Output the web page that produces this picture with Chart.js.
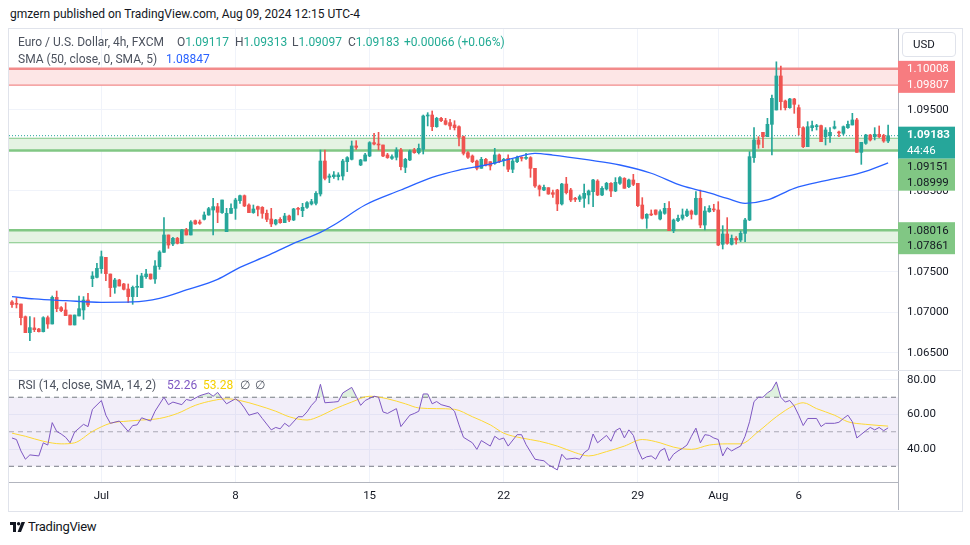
<!DOCTYPE html>
<html>
<head>
<meta charset="utf-8">
<script src="https://cdn.jsdelivr.net/npm/chart.js@4.4.1/dist/chart.umd.min.js"></script>
<style>
  body { margin: 0; width: 970px; height: 545px; background: #fff; position: relative; overflow: hidden;
         font-family: Roboto, "Noto Sans", sans-serif; color: #131722; }
  .abs { position: absolute; white-space: nowrap; }
  #pub { left: 10px; top: 6px; font-size: 12px; line-height: 16px; color: #131722; }
  #frame { left: 8px; top: 28px; width: 953px; height: 482px; border: 1px solid #e0e3eb; }
  .leg { font-size: 12px; line-height: 16px; color: #4c525e; }
  .up { color: #22ab94; }
  .blue { color: #2962ff; }
  .purple { color: #7e57c2; }
  .yellow { color: #f5d000; }
  #usd { left: 902px; top: 32px; width: 52px; height: 23px; border: 1px solid #e0e3eb; border-radius: 4px;
         font-size: 11.5px; line-height: 23px; text-indent: 10px; color: #131722; }
  #sep { left: 9px; top: 370px; width: 952px; height: 1px; background: #e0e3eb; }
  #axisv { left: 898px; top: 482px; width: 1px; height: 28px; background: #b2b5be; }
  #foot { left: 10px; top: 519px; font-size: 13px; line-height: 16px; color: #131722; letter-spacing: -0.3px; }
  canvas { position: absolute; }
</style>
</head>
<body>
<div id="pub" class="abs">gmzern published on TradingView.com, Aug 09, 2024 12:15 UTC-4</div>
<div id="frame" class="abs"></div>
<canvas id="main" width="951" height="341" style="left:9px;top:29px"></canvas>
<canvas id="rsi" width="951" height="139" style="left:9px;top:371px"></canvas>
<div id="sep" class="abs"></div>
<div id="axisv" class="abs"></div>
<div class="abs leg" style="left:18px;top:34px">Euro / U.S. Dollar, 4h, FXCM</div>
<div class="abs leg" style="left:177px;top:34px">O<span class="up">1.09117</span></div>
<div class="abs leg" style="left:235px;top:34px">H<span class="up">1.09313</span></div>
<div class="abs leg" style="left:292px;top:34px">L<span class="up">1.09097</span></div>
<div class="abs leg" style="left:348px;top:34px">C<span class="up">1.09183</span></div>
<div class="abs leg up" style="left:404px;top:34px">+0.00066 (+0.06%)</div>
<div class="abs leg" style="left:18px;top:51px">SMA (50, close, 0, SMA, 5)</div>
<div class="abs leg blue" style="left:166px;top:51px">1.08847</div>
<div class="abs leg" style="left:18px;top:377px">RSI (14, close, SMA, 14, 2)</div>
<div class="abs leg purple" style="left:167px;top:377px">52.26</div>
<div class="abs leg yellow" style="left:203px;top:377px">53.28</div>
<div class="abs leg" style="left:240px;top:377px">∅</div>
<div class="abs leg" style="left:255px;top:377px">∅</div>
<div id="usd" class="abs">USD</div>
<div id="foot" class="abs"><svg width="15" height="10" viewBox="0 0 15 10" style="vertical-align:-1px;margin-right:3px"><path d="M0 0h6v10H3V3H0z" fill="#131722"/><circle cx="8.6" cy="1.7" r="1.7" fill="#131722"/><path d="M11.5 0H15L11 10H7.6z" fill="#131722"/></svg>TradingView</div>

<script>
// 4h candles, index 0 = first candle on the left (late Jun 2024)
const opens = [1.07130,1.07109,1.07105,1.06948,1.06751,1.06809,1.06796,1.06763,1.06936,1.06858,1.07187,1.07060,1.07031,1.06969,1.06846,1.06957,1.07031,1.07154,1.07418,1.07434,
  1.07541,1.07681,1.07475,1.07311,1.07401,1.07352,1.07290,1.07196,1.07311,1.07307,1.07442,1.07475,1.07414,1.07566,1.07743,1.07957,1.07846,1.07916,1.07854,1.08019,
  1.07957,1.08134,1.08117,1.08150,1.08204,1.08265,1.08307,1.08233,1.07998,1.08224,1.08286,1.08381,1.08442,1.08327,1.08233,1.08307,1.08298,1.08224,1.08154,1.08093,
  1.08150,1.08109,1.08191,1.08142,1.08282,1.08257,1.08298,1.08340,1.08348,1.08463,1.08870,1.08669,1.08677,1.08677,1.08685,1.08862,1.08891,1.09056,1.08821,1.08870,
  1.08932,1.09097,1.09080,1.09068,1.08945,1.08903,1.08916,1.09006,1.08792,1.08883,1.09006,1.08973,1.09014,1.09426,1.09438,1.09294,1.09397,1.09368,1.09344,1.09315,
  1.09294,1.09171,1.08973,1.08932,1.08870,1.08780,1.08891,1.08862,1.08842,1.08945,1.08875,1.08903,1.08768,1.08862,1.08916,1.08903,1.08912,1.08780,1.08562,1.08512,
  1.08541,1.08479,1.08512,1.08340,1.08586,1.08512,1.08410,1.08397,1.08410,1.08451,1.08492,1.08623,1.08451,1.08525,1.08595,1.08500,1.08595,1.08656,1.08553,1.08636,
  1.08595,1.08327,1.08163,1.08212,1.08266,1.08154,1.08224,1.08286,1.08010,1.08134,1.08163,1.08196,1.08253,1.08212,1.08410,1.08080,1.08245,1.08278,1.08266,1.07842,
  1.07969,1.07842,1.07916,1.07895,1.07977,1.08142,1.08912,1.09130,1.09224,1.09171,1.09323,1.09500,1.09920,1.09611,1.09529,1.09636,1.09529,1.09282,1.09047,1.09282,
  1.09294,1.09307,1.09171,1.09183,1.09274,1.09224,1.09212,1.09282,1.09315,1.09377,1.08977,1.09088,1.09191,1.09171,1.09200,1.09183,1.09117];
const highs = [1.07146,1.07183,1.07105,1.06957,1.06948,1.06936,1.06804,1.06948,1.06957,1.07204,1.07265,1.07072,1.07121,1.06969,1.06969,1.07204,1.07196,1.07237,1.07504,1.07607,
  1.07759,1.07681,1.07475,1.07422,1.07410,1.07360,1.07352,1.07327,1.07463,1.07484,1.07533,1.07475,1.07640,1.07763,1.08171,1.07957,1.07928,1.07928,1.08027,1.08039,
  1.08134,1.08142,1.08142,1.08241,1.08298,1.08410,1.08348,1.08389,1.08286,1.08340,1.08410,1.08451,1.08451,1.08340,1.08327,1.08315,1.08307,1.08265,1.08286,1.08150,
  1.08171,1.08224,1.08204,1.08286,1.08298,1.08348,1.08369,1.08397,1.08492,1.09006,1.09006,1.08710,1.08739,1.08726,1.08891,1.08924,1.09117,1.09121,1.08891,1.08965,
  1.09109,1.09212,1.09224,1.09068,1.08965,1.08945,1.09035,1.09027,1.08903,1.09006,1.09027,1.09080,1.09438,1.09467,1.09488,1.09410,1.09410,1.09397,1.09385,1.09368,
  1.09303,1.09179,1.08986,1.08945,1.08883,1.08916,1.08903,1.08862,1.09027,1.08957,1.08903,1.08945,1.08891,1.08932,1.08924,1.08965,1.08924,1.08780,1.08574,1.08574,
  1.08541,1.08512,1.08521,1.08595,1.08669,1.08533,1.08422,1.08451,1.08586,1.08512,1.08644,1.08640,1.08553,1.08607,1.08603,1.08665,1.08677,1.08665,1.08648,1.08706,
  1.08595,1.08418,1.08220,1.08266,1.08266,1.08266,1.08348,1.08368,1.08154,1.08204,1.08278,1.08278,1.08266,1.08492,1.08512,1.08307,1.08319,1.08336,1.08368,1.08072,
  1.08171,1.07957,1.07936,1.08006,1.08163,1.08986,1.09282,1.09171,1.09224,1.09397,1.09685,1.10095,1.10043,1.09623,1.09644,1.09644,1.09562,1.09294,1.09356,1.09364,
  1.09323,1.09315,1.09282,1.09282,1.09364,1.09241,1.09303,1.09364,1.09459,1.09397,1.09101,1.09200,1.09200,1.09282,1.09303,1.09200,1.09313];
const lows = [1.07064,1.07056,1.06846,1.06751,1.06652,1.06763,1.06759,1.06759,1.06804,1.06858,1.07010,1.07010,1.06961,1.06846,1.06846,1.06957,1.06915,1.07072,1.07319,1.07426,
  1.07484,1.07393,1.07196,1.07237,1.07327,1.07278,1.07121,1.07101,1.07196,1.07307,1.07422,1.07410,1.07360,1.07533,1.07743,1.07792,1.07825,1.07846,1.07854,1.07957,
  1.07957,1.08088,1.08088,1.08142,1.08200,1.07957,1.08109,1.08224,1.07998,1.08224,1.08150,1.08348,1.08307,1.08233,1.08224,1.08191,1.08163,1.08121,1.08060,1.08080,
  1.08101,1.08109,1.08121,1.08134,1.08204,1.08183,1.08286,1.08327,1.08327,1.08438,1.08636,1.08603,1.08656,1.08636,1.08636,1.08739,1.08883,1.09014,1.08813,1.08870,
  1.08924,1.09068,1.09006,1.08924,1.08903,1.08891,1.08883,1.08759,1.08726,1.08875,1.08965,1.08957,1.08957,1.09303,1.09245,1.09286,1.09356,1.09315,1.09261,1.09253,
  1.09056,1.08945,1.08903,1.08850,1.08759,1.08780,1.08809,1.08759,1.08829,1.08850,1.08809,1.08739,1.08726,1.08850,1.08870,1.08891,1.08669,1.08545,1.08438,1.08504,
  1.08459,1.08422,1.08257,1.08327,1.08463,1.08369,1.08369,1.08369,1.08298,1.08340,1.08307,1.08442,1.08443,1.08512,1.08430,1.08492,1.08582,1.08533,1.08541,1.08566,
  1.08307,1.08154,1.08039,1.08196,1.08204,1.08142,1.08212,1.08010,1.07986,1.08121,1.08142,1.08183,1.08154,1.08204,1.08047,1.08019,1.08237,1.08245,1.07825,1.07784,
  1.07842,1.07833,1.07842,1.07875,1.07875,1.08134,1.08854,1.09027,1.09035,1.09171,1.08945,1.09500,1.09500,1.09500,1.09521,1.09459,1.09191,1.09035,1.09047,1.09241,
  1.09253,1.09109,1.09068,1.09101,1.09265,1.09171,1.09191,1.09274,1.09315,1.08977,1.08829,1.09076,1.09117,1.09130,1.09159,1.09101,1.09097];
const closes = [1.07097,1.07101,1.06936,1.06751,1.06813,1.06788,1.06763,1.06936,1.06858,1.07187,1.07047,1.07023,1.06961,1.06846,1.06969,1.07047,1.07154,1.07093,1.07451,1.07545,
  1.07689,1.07479,1.07307,1.07401,1.07327,1.07286,1.07196,1.07311,1.07319,1.07451,1.07475,1.07414,1.07574,1.07747,1.07957,1.07833,1.07916,1.07854,1.08019,1.07957,
  1.08117,1.08093,1.08101,1.08204,1.08282,1.08307,1.08237,1.08389,1.08224,1.08286,1.08389,1.08442,1.08315,1.08233,1.08278,1.08274,1.08224,1.08150,1.08093,1.08142,
  1.08109,1.08191,1.08142,1.08278,1.08274,1.08298,1.08356,1.08369,1.08471,1.08870,1.08656,1.08685,1.08698,1.08698,1.08870,1.08912,1.09056,1.09039,1.08883,1.08945,
  1.09097,1.09080,1.09068,1.08932,1.08912,1.08924,1.09006,1.08801,1.08891,1.08994,1.08973,1.09027,1.09426,1.09438,1.09294,1.09397,1.09368,1.09323,1.09303,1.09282,
  1.09163,1.08965,1.08916,1.08862,1.08780,1.08891,1.08821,1.08809,1.08945,1.08862,1.08891,1.08768,1.08870,1.08916,1.08903,1.08916,1.08780,1.08562,1.08521,1.08545,
  1.08463,1.08459,1.08340,1.08586,1.08479,1.08389,1.08397,1.08430,1.08471,1.08500,1.08636,1.08451,1.08533,1.08595,1.08500,1.08607,1.08665,1.08533,1.08636,1.08582,
  1.08319,1.08163,1.08212,1.08204,1.08212,1.08245,1.08286,1.08010,1.08142,1.08163,1.08204,1.08253,1.08212,1.08410,1.08080,1.08253,1.08286,1.08266,1.07833,1.07969,
  1.07854,1.07916,1.07895,1.07977,1.08142,1.08924,1.09130,1.09076,1.09171,1.09323,1.09644,1.09920,1.09603,1.09529,1.09636,1.09570,1.09282,1.09047,1.09294,1.09307,
  1.09307,1.09109,1.09253,1.09224,1.09294,1.09216,1.09294,1.09323,1.09377,1.08977,1.09101,1.09191,1.09130,1.09200,1.09171,1.09117,1.09183];

// SMA(50) at these candle indexes
const smaIdx = [0, 5, 12, 20, 27, 33, 39, 46, 51, 57, 63, 69, 72, 79, 87, 94, 100, 106, 112, 117, 121, 129, 136, 143, 150, 155, 160, 164, 169, 175, 182, 190, 196];
const smaVals = [1.07195, 1.07167, 1.07146, 1.07126, 1.07130, 1.07175, 1.07278, 1.07410, 1.07558, 1.07698, 1.07854, 1.07990, 1.08080, 1.08327, 1.08512, 1.08669, 1.08759, 1.08821, 1.08904, 1.08965, 1.08944, 1.08883, 1.08821, 1.08719, 1.08562, 1.08491, 1.08410, 1.08348, 1.08389, 1.08533, 1.08627, 1.08726, 1.08847];

// RSI(14) and its SMA(14)
const rsiIdx = [0,1,2,3,4,6,7,8,9,10,11,12,13,14,16,17,18,20,21,22,24,26,27,28,29,31,32,34,35,36,38,39,40,42,44,45,46,47,48,50,51,52,53,55,56,58,59,60,61,62,
  64,65,66,67,68,69,70,72,73,74,76,77,78,79,81,82,83,84,86,87,89,90,91,92,93,94,95,96,98,99,100,101,103,104,105,107,108,109,110,111,113,114,115,117,118,119,120,122,123,124,
  126,127,128,129,130,131,133,134,135,136,137,138,139,140,141,142,143,144,145,146,147,148,149,150,151,152,153,154,155,156,157,158,159,160,161,162,163,164,165,166,167,168,169,170,171,172,173,174,175,176,
  177,178,180,181,182,184,185,186,187,188,189,191,192,193,194,195,196];
const rsiVals = [46.4,45.5,38.9,34.1,36.6,36.0,43.6,42.3,55.3,50.2,48.7,46.8,43.6,49.8,54.3,53.0,63.0,68.1,59.6,54.9,56.2,50.2,53.6,54.0,58.1,56.2,61.9,70.0,65.7,67.2,65.7,68.7,68.1,70.9,72.5,70.6,72.8,69.4,66.2,69.1,67.2,63.8,59.6,61.1,57.7,51.1,52.5,51.7,54.9,53.0,
  58.7,58.7,61.5,65.3,68.1,77.5,66.8,67.2,67.5,72.5,75.7,70.6,65.3,68.1,70.6,70.0,61.5,60.6,63.4,53.0,59.6,60.6,61.9,71.9,71.9,66.2,67.5,65.7,64.3,61.9,54.0,46.8,43.6,39.8,44.9,41.7,47.4,45.5,46.4,41.7,48.3,48.3,42.6,34.1,33.6,33.2,30.9,27.9,37.0,34.1,
  34.7,34.1,37.9,39.8,48.7,43.6,47.9,44.5,50.6,52.1,46.4,51.1,47.9,39.8,34.1,35.5,36.0,34.1,38.9,40.4,33.2,37.0,38.9,40.4,42.3,47.4,52.1,43.6,48.3,47.9,46.4,45.5,36.0,40.8,38.9,40.4,41.7,47.4,55.8,67.5,70.0,70.0,72.5,74.3,78.9,70.0,67.2,68.1,64.9,59.6,
  53.6,57.7,57.7,53.0,54.9,54.9,55.5,57.7,59.6,55.8,46.4,50.6,52.5,51.1,52.5,50.6,52.26];
const rsiMaIdx = [0, 3, 7, 11, 14, 18, 22, 26, 29, 33, 37, 41, 45, 48, 51, 55, 59, 62, 66, 69, 72, 76, 80, 84, 88, 91, 95, 99, 103, 107, 110, 114, 118, 122, 126, 129, 133, 137, 141, 145, 148, 152, 156, 160, 163, 167, 171, 175, 177, 180, 184, 187, 191, 196];
const rsiMaVals = [49.2, 47.4, 44.5, 43.0, 43.6, 50.2, 54.9, 56.2, 56.8, 57.7, 60.6, 65.3, 68.1, 69.1, 68.1, 65.3, 61.9, 58.7, 56.8, 59.2, 63.0, 67.2, 70.6, 69.1, 66.2, 63.8, 63.4, 63.0, 58.7, 54.0, 49.2, 46.4, 44.5, 41.7, 37.9, 36.0, 38.5, 41.7, 45.5, 43.6, 41.1, 39.8, 42.3, 43.0, 43.0, 50.2, 58.7, 65.3, 66.8, 63.4, 59.6, 55.8, 54.3, 53.28];

// horizontal zones [upper, lower]
const resistanceZone = [1.10008, 1.09807];
const upperSupport = [1.09151, 1.08999];
const lowerSupport = [1.08016, 1.07861];

// axis ticks
const timeTickIdx = [20, 50, 80, 110, 140, 158, 176];
const timeTickLabels = ['Jul', '8', '15', '22', '29', 'Aug', '6'];
const priceTicks = [1.065, 1.070, 1.075, 1.080, 1.085, 1.090, 1.095, 1.100];
const rsiTicks = [40, 60, 80];
const rsiLevels = [70, 50, 30];
const countdown = '44:46';

const xMin = -0.67, xMax = 198.21;
const upColor = '#26a69a', downColor = '#ef5350';
const gridColor = '#f0f3fa';
const axisLine = '#b2b5be';

Chart.defaults.font.family = 'Roboto, "Noto Sans", sans-serif';
Chart.defaults.font.size = 11.5;
Chart.defaults.color = '#131722';

const candleColors = closes.map((c, i) => c >= opens[i] ? upColor : downColor);
const lastClose = closes[closes.length - 1];

function noPadding(s) {
  s.paddingTop = 0; s.paddingBottom = 0; s.paddingLeft = 0; s.paddingRight = 0;
}

function timeScale(showLabels) {
  return {
    type: 'linear', min: xMin, max: xMax, offset: false,
    grid: { color: gridColor, offset: false, drawTicks: false },
    border: { display: showLabels, color: axisLine },
    afterBuildTicks: s => { s.ticks = timeTickIdx.map(v => ({ value: v })); },
    afterFit: s => { s.height = showLabels ? 28 : 0; noPadding(s); },
    ticks: {
      display: showLabels, autoSkip: false, maxRotation: 0, padding: 7,
      callback: v => timeTickLabels[timeTickIdx.indexOf(v)]
    }
  };
}

function priceScale(min, max, ticks, digits) {
  return {
    position: 'right', min, max,
    grid: { color: gridColor, drawTicks: false },
    border: { color: axisLine },
    afterBuildTicks: s => { s.ticks = ticks.map(v => ({ value: v })); },
    afterFit: s => { s.width = 62; noPadding(s); },
    ticks: { autoSkip: false, padding: 9, callback: v => v.toFixed(digits) }
  };
}

function hLine(ctx, area, y, color, width, dash) {
  ctx.save();
  ctx.strokeStyle = color;
  ctx.lineWidth = width;
  ctx.setLineDash(dash || []);
  ctx.beginPath();
  ctx.moveTo(area.left, y);
  ctx.lineTo(area.right, y);
  ctx.stroke();
  ctx.restore();
}

function drawTag(ctx, left, top, rows, bg, fg, fonts) {
  const h = rows.length * 15.5 + 1;
  ctx.fillStyle = bg;
  ctx.fillRect(left, top, 57, h);
  ctx.fillStyle = fg;
  ctx.textBaseline = 'middle';
  ctx.textAlign = 'left';
  rows.forEach((r, k) => {
    ctx.font = fonts[k];
    ctx.fillText(r, left + 9, top + 8.5 + k * 15.5);
  });
  return top + h;
}

const zonePlugin = {
  id: 'zones',
  beforeDatasetsDraw(chart) {
    const { ctx, chartArea: a, scales: { y } } = chart;
    ctx.save();
    ctx.beginPath();
    ctx.rect(a.left, a.top, a.right - a.left, a.bottom - a.top);
    ctx.clip();
    const zone = (z, fill, line, thickTop) => {
      const y1 = y.getPixelForValue(z[0]), y2 = y.getPixelForValue(z[1]);
      ctx.fillStyle = fill;
      ctx.fillRect(a.left, y1, a.right - a.left, y2 - y1);
      hLine(ctx, a, y1, line, thickTop ? 2.5 : 1.2);
      hLine(ctx, a, y2, line, thickTop ? 1.2 : 2.5);
    };
    zone(resistanceZone, '#fde6e6', '#f28b8b', true);
    zone(upperSupport, '#e5f3e3', '#81c784', false);
    zone(lowerSupport, '#e5f3e3', '#81c784', true);
    hLine(ctx, a, y.getPixelForValue(lastClose), upColor, 1, [1, 2]);
    ctx.restore();
  },
  afterDraw(chart) {
    const { ctx, scales: { y } } = chart;
    const left = y.left;
    const bold = 'bold 11.5px Roboto, sans-serif', reg = '11.5px Roboto, sans-serif';
    ctx.save();
    drawTag(ctx, left, y.getPixelForValue(resistanceZone[0]) - 8,
      resistanceZone.map(v => v.toFixed(5)), '#f77c80', '#ffffff', [reg, reg]);
    const tealBottom = drawTag(ctx, left, y.getPixelForValue(lastClose) - 9,
      [lastClose.toFixed(5), countdown], upColor, '#ffffff', [bold, reg]);
    drawTag(ctx, left, Math.max(tealBottom, y.getPixelForValue(upperSupport[0]) - 8),
      upperSupport.map(v => v.toFixed(5)), '#81c784', '#131722', [reg, reg]);
    drawTag(ctx, left, y.getPixelForValue(lowerSupport[0]) - 8,
      lowerSupport.map(v => v.toFixed(5)), '#81c784', '#131722', [reg, reg]);
    ctx.restore();
  }
};

new Chart(document.getElementById('main'), {
  type: 'bar',
  data: {
    datasets: [
      {
        type: 'line', label: 'SMA 50', order: 0,
        data: smaIdx.map((x, k) => ({ x, y: smaVals[k] })),
        borderColor: '#2962ff', borderWidth: 1.3, pointRadius: 0,
        cubicInterpolationMode: 'monotone'
      },
      {
        label: 'body', order: 1, grouped: false, barThickness: 3, minBarLength: 1,
        data: opens.map((o, i) => ({ x: i, y: [o, closes[i]] })),
        backgroundColor: candleColors, borderWidth: 0
      },
      {
        label: 'wick', order: 2, grouped: false, barThickness: 1, minBarLength: 1,
        data: highs.map((h, i) => ({ x: i, y: [lows[i], h] })),
        backgroundColor: candleColors, borderWidth: 0
      }
    ]
  },
  options: {
    responsive: false, animation: false, devicePixelRatio: 1,
    layout: { padding: 0 },
    plugins: { legend: { display: false }, tooltip: { enabled: false } },
    events: [],
    scales: {
      x: timeScale(false),
      y: priceScale(1.0629, 1.1050, priceTicks, 5)
    }
  },
  plugins: [zonePlugin]
});

const rsiPlugin = {
  id: 'rsiBand',
  beforeDatasetsDraw(chart) {
    const { ctx, chartArea: a, scales: { y } } = chart;
    const yTop = y.getPixelForValue(rsiLevels[0]), yBot = y.getPixelForValue(rsiLevels[2]);
    ctx.save();
    ctx.fillStyle = 'rgba(126, 87, 194, 0.1)';
    ctx.fillRect(a.left, yTop, a.right - a.left, yBot - yTop);
    hLine(ctx, a, yTop, '#787b86', 1, [5, 4]);
    hLine(ctx, a, y.getPixelForValue(rsiLevels[1]), 'rgba(120,123,134,0.6)', 1, [5, 4]);
    hLine(ctx, a, yBot, '#787b86', 1, [5, 4]);
    ctx.restore();
  }
};

new Chart(document.getElementById('rsi'), {
  type: 'line',
  data: {
    datasets: [
      {
        label: 'RSI', data: rsiIdx.map((x, k) => ({ x, y: rsiVals[k] })),
        borderColor: '#7e57c2', borderWidth: 1, pointRadius: 0, tension: 0,
        fill: { target: { value: rsiLevels[0] }, above: 'rgba(76, 175, 80, 0.18)', below: 'rgba(0,0,0,0)' }
      },
      {
        label: 'RSI MA', data: rsiMaIdx.map((x, k) => ({ x, y: rsiMaVals[k] })),
        borderColor: '#fdd835', borderWidth: 1, pointRadius: 0,
        cubicInterpolationMode: 'monotone', fill: false
      }
    ]
  },
  options: {
    responsive: false, animation: false, devicePixelRatio: 1,
    layout: { padding: 0 },
    plugins: { legend: { display: false }, tooltip: { enabled: false } },
    events: [],
    scales: {
      x: timeScale(true),
      y: priceScale(20.9, 85.2, rsiTicks, 2)
    }
  },
  plugins: [rsiPlugin]
});
</script>
</body>
</html>
